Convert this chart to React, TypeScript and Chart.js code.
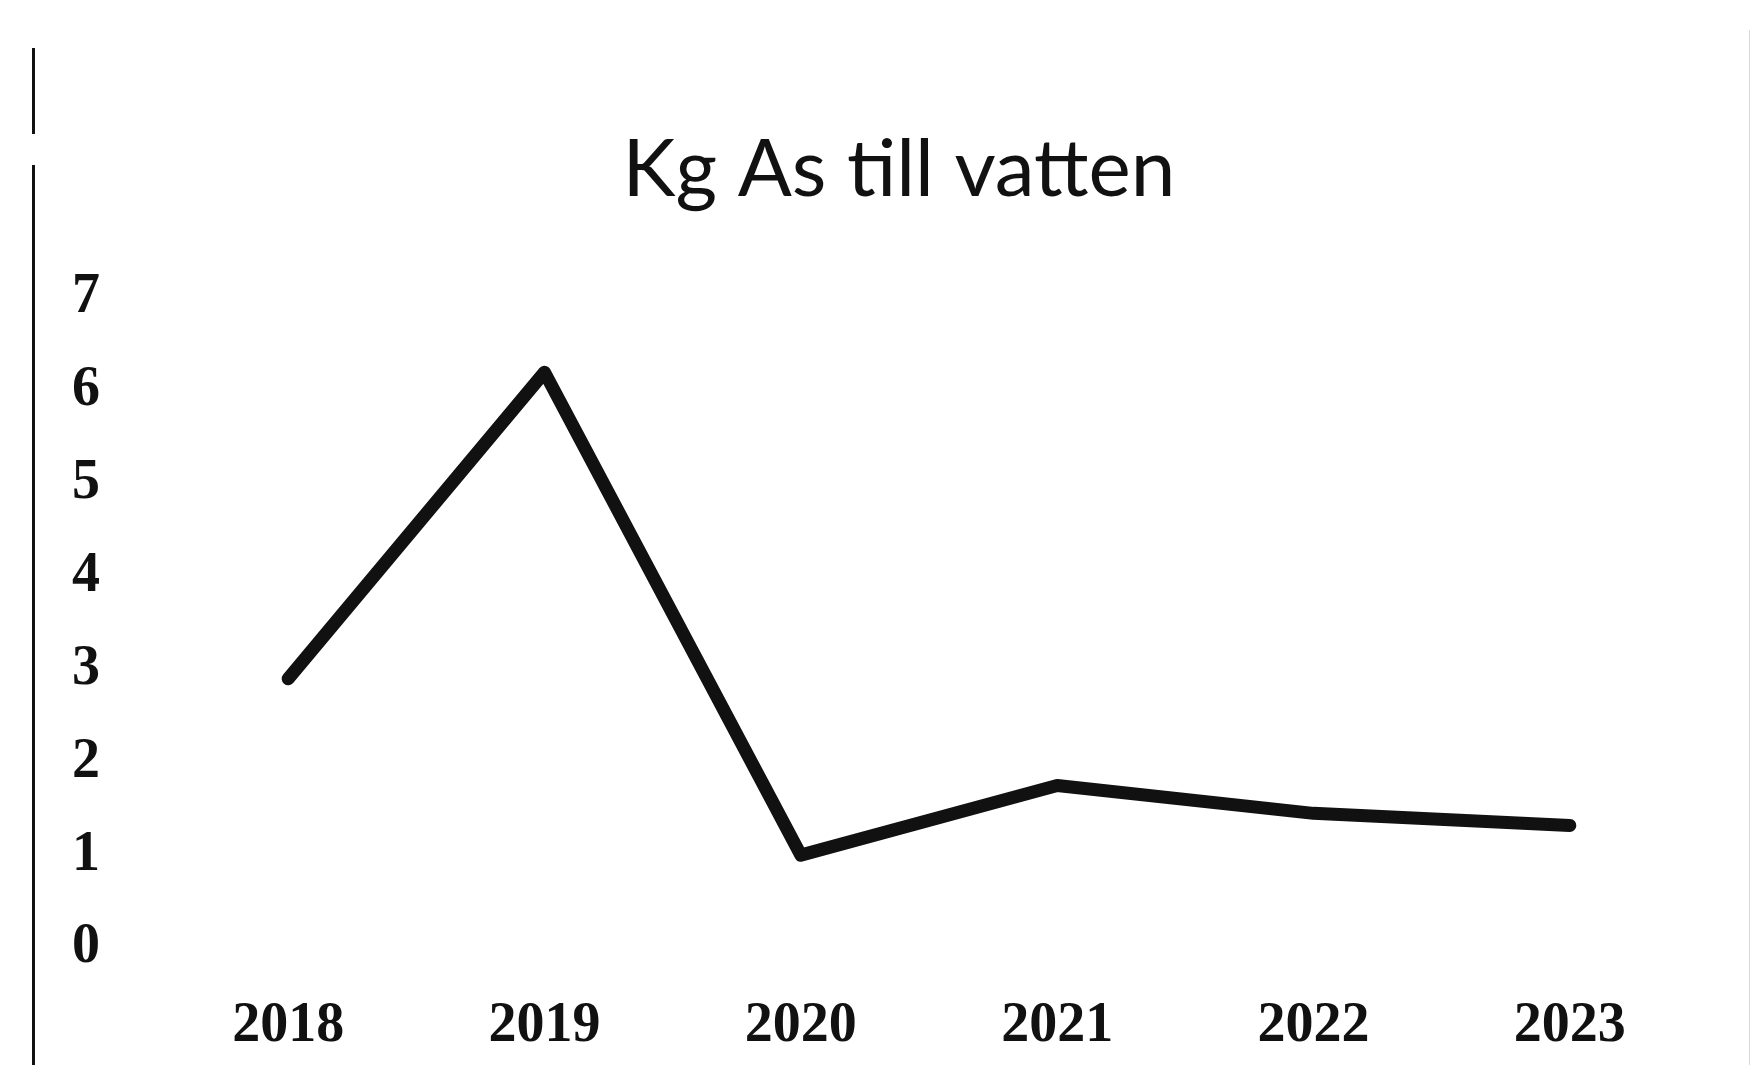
import React, { useEffect, useRef } from "react";
import { Chart, registerables } from "chart.js";

Chart.register(...registerables);

const titleText = "Kg As till vatten";
const years = ["2018", "2019", "2020", "2021", "2022", "2023"];
const kgArsenic = [2.9, 6.2, 1.0, 1.75, 1.45, 1.32];
const yMin = 0;
const yMax = 7;
const yStep = 1;

const titleFont = "normal 80px Lato, 'Noto Sans', sans-serif";

const offsetTitlePlugin = {
  id: "offsetTitle",
  afterDraw(chart: any) {
    const ctx = chart.ctx;
    ctx.save();
    ctx.font = titleFont;
    ctx.fillStyle = "#111111";
    ctx.textAlign = "center";
    ctx.textBaseline = "alphabetic";
    ctx.fillText(titleText, 899, 196);
    ctx.restore();
  },
};

export default function App() {
  const canvasRef = useRef<HTMLCanvasElement | null>(null);

  useEffect(() => {
    const canvas = canvasRef.current;
    if (!canvas) return;
    const chart = new Chart(canvas, {
      type: "line",
      data: {
        labels: years,
        datasets: [
          {
            label: titleText,
            data: kgArsenic,
            borderColor: "#111111",
            backgroundColor: "#111111",
            borderWidth: 13,
            pointRadius: 0,
            pointHoverRadius: 0,
            borderJoinStyle: "round",
            borderCapStyle: "round",
            tension: 0,
            fill: false,
          },
        ],
      },
      options: {
        animation: false,
        responsive: true,
        maintainAspectRatio: false,
        layout: { padding: { left: 0, right: 54, top: 298, bottom: 0 } },
        plugins: {
          legend: { display: false },
          tooltip: { enabled: false },
          title: { display: false },
        },
        scales: {
          x: {
            offset: true,
            grid: { display: false, drawTicks: false },
            border: { display: false },
            ticks: {
              color: "#111111",
              padding: 45,
              maxRotation: 0,
              font: { family: "'Liberation Serif', serif", size: 56, weight: "bold", lineHeight: 1.2 },
            },
            afterFit: (scale: any) => {
              scale.height = 117;
            },
          },
          y: {
            min: yMin,
            max: yMax,
            grid: { display: false, drawTicks: false },
            border: { display: false },
            ticks: {
              stepSize: yStep,
              color: "#111111",
              padding: 60,
              font: { family: "'Liberation Serif', serif", size: 56, weight: "bold", lineHeight: 1.2 },
            },
            afterFit: (scale: any) => {
              scale.width = 160;
            },
          },
        },
      },
      plugins: [offsetTitlePlugin],
    });
    return () => chart.destroy();
  }, []);

  return (
    <div
      style={{
        position: "fixed",
        left: 0,
        top: 0,
        width: 1752,
        height: 1065,
        background: "#ffffff",
        overflow: "hidden",
      }}
    >
      <div style={{ position: "absolute", left: 32, top: 48, width: 3, height: 86, background: "#111" }} />
      <div style={{ position: "absolute", left: 32, top: 165, width: 3, height: 900, background: "#111" }} />
      <div style={{ position: "absolute", left: 1749, top: 30, width: 1, height: 1035, background: "#d8d8d8" }} />
      <canvas ref={canvasRef} style={{ position: "absolute", left: 0, top: 0, width: 1752, height: 1065 }} />
    </div>
  );
}
